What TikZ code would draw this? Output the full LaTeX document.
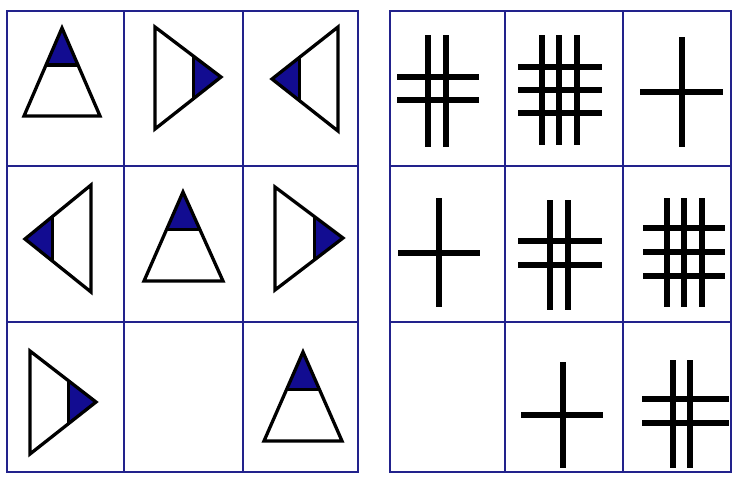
\documentclass[tikz,border=0pt]{standalone}
\usepackage{tikz}
\usetikzlibrary{calc}

\definecolor{gridblue}{RGB}{34,34,140}
\definecolor{tipblue}{RGB}{18,12,145}

\begin{document}
\begin{tikzpicture}[
      x=0.03cm,
      y=-0.03cm,
      gridline/.style={draw=gridblue, line width=1.3pt},
      outline/.style={draw=black, line width=2.8pt, line join=miter},
      tipfill/.style={fill=tipblue},
      bar/.style={draw=black, line width=5.8pt, line cap=butt}
    ]
    \useasboundingbox (0,0) rectangle (732,476);
    \fill[white] (0,0) rectangle (732,476);

    % left grid
    \draw[gridline] (7,11) rectangle (358,472);
    \draw[gridline] (124,11) -- (124,472);
    \draw[gridline] (243,11) -- (243,472);
    \draw[gridline] (7,166) -- (358,166);
    \draw[gridline] (7,322) -- (358,322);

    % right grid
    \draw[gridline] (390,11) rectangle (731,472);
    \draw[gridline] (505,11) -- (505,472);
    \draw[gridline] (623,11) -- (623,472);
    \draw[gridline] (390,166) -- (731,166);
    \draw[gridline] (390,322) -- (731,322);

    % triangles: apex / two corners, tip filled
    \foreach \ax/\ay/\bx/\by/\cx/\cy in {
        62/28/24/116/100/116,
        221/77/155/27/155/129,
        272/79/338/27/338/131,
        25/239/91/185/91/292,
        183/192/144/281/223/281,
        343/238/275/187/275/290,
        96/402/30/351/30/454,
        303/352/264/441/342/441} {
      \coordinate (apex) at (\ax,\ay);
      \coordinate (cnrA) at (\bx,\by);
      \coordinate (cnrB) at (\cx,\cy);
      \fill[tipfill] (apex) -- ($(apex)!0.42!(cnrA)$) -- ($(apex)!0.42!(cnrB)$) -- cycle;
      \draw[outline] ($(apex)!0.42!(cnrA)$) -- ($(apex)!0.42!(cnrB)$);
      \draw[outline] (apex) -- (cnrA) -- (cnrB) -- cycle;
    }

    % row 1 of right grid
    \foreach \x in {428,446} \draw[bar] (\x,35) -- (\x,147);
    \foreach \y in {77,100} \draw[bar] (397,\y) -- (479,\y);
    \foreach \x in {542,559,577} \draw[bar] (\x,35) -- (\x,145);
    \foreach \y in {67,90,113} \draw[bar] (518,\y) -- (602,\y);
    \draw[bar] (682,37) -- (682,147);
    \draw[bar] (640,92) -- (723,92);

    % row 2 of right grid
    \draw[bar] (439,198) -- (439,307);
    \draw[bar] (398,253) -- (480,253);
    \foreach \x in {550,568} \draw[bar] (\x,200) -- (\x,310);
    \foreach \y in {241,265} \draw[bar] (518,\y) -- (602,\y);
    \foreach \x in {667,684,702} \draw[bar] (\x,198) -- (\x,307);
    \foreach \y in {228,252,276} \draw[bar] (643,\y) -- (725,\y);

    % row 3 of right grid
    \draw[bar] (563,362) -- (563,468);
    \draw[bar] (521,415) -- (603,415);
    \foreach \x in {673,690} \draw[bar] (\x,360) -- (\x,468);
    \foreach \y in {399,423} \draw[bar] (642,\y) -- (729,\y);
  \end{tikzpicture}
\end{document}
